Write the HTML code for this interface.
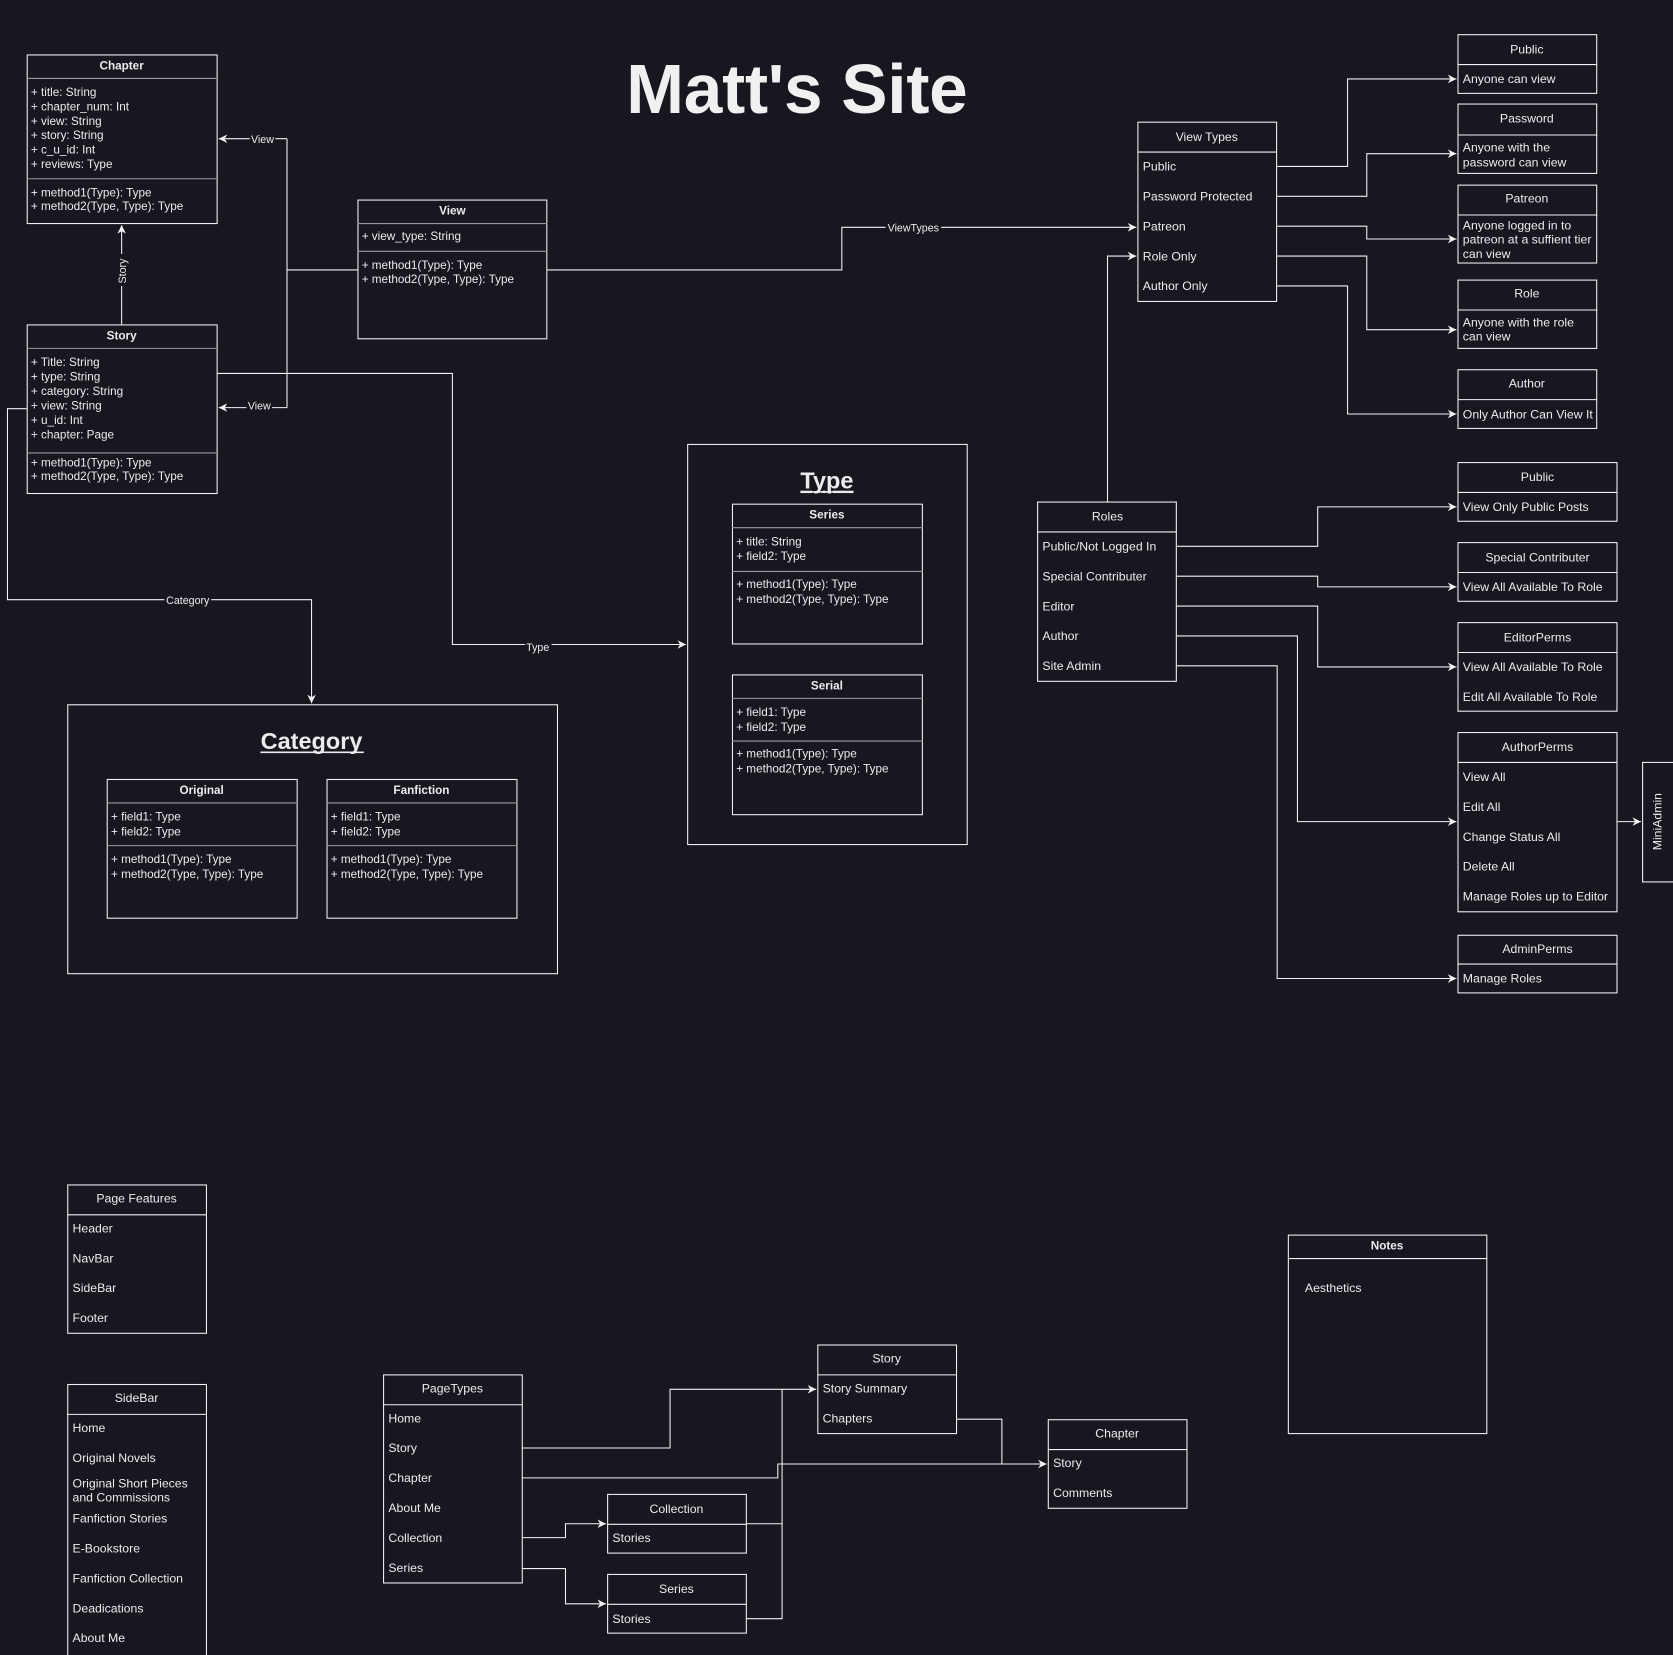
<!DOCTYPE html>
<html><head><meta charset="utf-8"><style>
html,body{margin:0;padding:0;background:#18161f;}
svg{display:block;}
text{font-family:"Liberation Sans",Arial,sans-serif;fill:#ececec;}
.f{font-size:11px;}
.i{font-size:11.5px;}
.b{font-weight:bold;}
.bx{fill:none;stroke:#f2f2f2;stroke-width:1;}
.sp{stroke:#9a9a9a;stroke-width:1;}
.hd{stroke:#f2f2f2;stroke-width:1;}
.ln{fill:none;stroke:#f2f2f2;stroke-width:1;}
.lb{font-size:10px;}
</style></head><body>
<svg width="1673" height="1655" viewBox="0 0 1568 1551" preserveAspectRatio="none" xmlns="http://www.w3.org/2000/svg">
<defs>
<marker id="a" viewBox="0 0 10 10" refX="10" refY="5" markerWidth="8" markerHeight="8" orient="auto" markerUnits="userSpaceOnUse">
<path d="M0,0 L10,5 L0,10 L3,5 Z" fill="#f2f2f2"/></marker>
</defs>
<rect width="1568" height="1551" fill="#18161f"/>

<text x="747" y="106" text-anchor="middle" font-size="65" font-weight="bold" fill="#f0f0f0" style="fill:#f0f0f0" textLength="320">Matt's Site</text>

<!-- connectors -->
<path class="ln" d="M114,304 L114,211" marker-end="url(#a)"/>
<rect x="108" y="238" width="12" height="30" fill="#18161f"/>
<text class="lb" transform="translate(118,254) rotate(-90)" text-anchor="middle">Story</text>

<path class="ln" d="M335,253 L269,253"/>
<path class="ln" d="M269,130 L269,382"/>
<path class="ln" d="M269,130 L205,130" marker-end="url(#a)"/>
<path class="ln" d="M269,382 L205,382" marker-end="url(#a)"/>
<rect x="234" y="124" width="24" height="12" fill="#18161f"/><text class="lb" x="246" y="134" text-anchor="middle">View</text>
<rect x="231" y="374" width="24" height="12" fill="#18161f"/><text class="lb" x="243" y="384" text-anchor="middle">View</text>

<path class="ln" d="M513,253 L789,253 L789,213 L1065,213" marker-end="url(#a)"/>
<rect x="830" y="207" width="52" height="12" fill="#18161f"/><text class="lb" x="856" y="217" text-anchor="middle">ViewTypes</text>

<path class="ln" d="M204,350 L424,350 L424,604 L643,604" marker-end="url(#a)"/>
<rect x="492" y="599" width="25" height="12" fill="#18161f"/><text class="lb" x="504" y="610" text-anchor="middle">Type</text>

<path class="ln" d="M25,383 L7,383 L7,562 L292,562 L292,659" marker-end="url(#a)"/>
<rect x="154" y="556" width="44" height="12" fill="#18161f"/><text class="lb" x="176" y="566" text-anchor="middle">Category</text>

<!-- view types connectors -->
<path class="ln" d="M1197,156 L1263,156 L1263,74 L1365,74" marker-end="url(#a)"/>
<path class="ln" d="M1197,184 L1281,184 L1281,144 L1365,144" marker-end="url(#a)"/>
<path class="ln" d="M1197,212 L1281,212 L1281,224 L1365,224" marker-end="url(#a)"/>
<path class="ln" d="M1197,240 L1281,240 L1281,309 L1365,309" marker-end="url(#a)"/>
<path class="ln" d="M1197,268 L1263,268 L1263,388 L1365,388" marker-end="url(#a)"/>
<path class="ln" d="M1038,470 L1038,240 L1065,240" marker-end="url(#a)"/>

<!-- roles connectors -->
<path class="ln" d="M1103,512 L1235,512 L1235,475 L1365,475" marker-end="url(#a)"/>
<path class="ln" d="M1103,540 L1235,540 L1235,550 L1365,550" marker-end="url(#a)"/>
<path class="ln" d="M1103,568 L1235,568 L1235,625 L1365,625" marker-end="url(#a)"/>
<path class="ln" d="M1103,596 L1216,596 L1216,770 L1365,770" marker-end="url(#a)"/>
<path class="ln" d="M1103,624 L1197,624 L1197,917 L1365,917" marker-end="url(#a)"/>
<path class="ln" d="M1516,770 L1538,770" marker-end="url(#a)"/>

<!-- page types connectors -->
<path class="ln" d="M489,1357 L628,1357 L628,1302 L765,1302" marker-end="url(#a)"/>
<path class="ln" d="M489,1385 L729,1385 L729,1372 L981,1372" marker-end="url(#a)"/>
<path class="ln" d="M489,1441 L530,1441 L530,1428 L568,1428" marker-end="url(#a)"/>
<path class="ln" d="M489,1470 L530,1470 L530,1503 L568,1503" marker-end="url(#a)"/>
<path class="ln" d="M897,1330 L939,1330 L939,1372"/>
<path class="ln" d="M700,1428 L733,1428"/>
<path class="ln" d="M700,1517 L733,1517 L733,1302"/>

<!-- Chapter UML -->
<rect class="bx" x="25.5" y="51.5" width="178" height="158"/>
<line class="sp" x1="25" y1="73.5" x2="204" y2="73.5"/>
<line class="sp" x1="25" y1="167.5" x2="204" y2="167.5"/>
<text class="f b" x="114" y="65" text-anchor="middle">Chapter</text>
<text class="f" x="29" y="90">+ title: String</text>
<text class="f" x="29" y="103.5">+ chapter_num: Int</text>
<text class="f" x="29" y="117">+ view: String</text>
<text class="f" x="29" y="130.5">+ story: String</text>
<text class="f" x="29" y="144">+ c_u_id: Int</text>
<text class="f" x="29" y="157.5">+ reviews: Type</text>
<text class="f" x="29" y="184">+ method1(Type): Type</text>
<text class="f" x="29" y="197">+ method2(Type, Type): Type</text>

<!-- View UML -->
<rect class="bx" x="335.5" y="187.5" width="177" height="130"/>
<line class="sp" x1="335" y1="209.5" x2="513" y2="209.5"/>
<line class="sp" x1="335" y1="235.5" x2="513" y2="235.5"/>
<text class="f b" x="424" y="201" text-anchor="middle">View</text>
<text class="f" x="339" y="225">+ view_type: String</text>
<text class="f" x="339" y="252">+ method1(Type): Type</text>
<text class="f" x="339" y="265">+ method2(Type, Type): Type</text>

<!-- Story UML -->
<rect class="bx" x="25.5" y="304.5" width="178" height="158"/>
<line class="sp" x1="25" y1="326.5" x2="204" y2="326.5"/>
<line class="sp" x1="25" y1="424.5" x2="204" y2="424.5"/>
<text class="f b" x="114" y="318" text-anchor="middle">Story</text>
<text class="f" x="29" y="343">+ Title: String</text>
<text class="f" x="29" y="356.5">+ type: String</text>
<text class="f" x="29" y="370">+ category: String</text>
<text class="f" x="29" y="384">+ view: String</text>
<text class="f" x="29" y="397.5">+ u_id: Int</text>
<text class="f" x="29" y="411">+ chapter: Page</text>
<text class="f" x="29" y="437">+ method1(Type): Type</text>
<text class="f" x="29" y="450">+ method2(Type, Type): Type</text>

<!-- Type container -->
<rect class="bx" x="644.5" y="416.5" width="262" height="375"/>
<text x="775" y="458" text-anchor="middle" font-size="22" font-weight="bold" text-decoration="underline">Type</text>
<line x1="751" y1="461" x2="800" y2="461" stroke="#ececec" stroke-width="1.5"/>
<rect class="bx" x="686.5" y="472.5" width="178" height="131"/>
<line class="sp" x1="686" y1="494.5" x2="865" y2="494.5"/>
<line class="sp" x1="686" y1="535.5" x2="865" y2="535.5"/>
<text class="f b" x="775" y="486" text-anchor="middle">Series</text>
<text class="f" x="690" y="511">+ title: String</text>
<text class="f" x="690" y="525">+ field2: Type</text>
<text class="f" x="690" y="551">+ method1(Type): Type</text>
<text class="f" x="690" y="565">+ method2(Type, Type): Type</text>
<rect class="bx" x="686.5" y="632.5" width="178" height="131"/>
<line class="sp" x1="686" y1="654.5" x2="865" y2="654.5"/>
<line class="sp" x1="686" y1="694.5" x2="865" y2="694.5"/>
<text class="f b" x="775" y="646" text-anchor="middle">Serial</text>
<text class="f" x="690" y="671">+ field1: Type</text>
<text class="f" x="690" y="685">+ field2: Type</text>
<text class="f" x="690" y="710">+ method1(Type): Type</text>
<text class="f" x="690" y="724">+ method2(Type, Type): Type</text>

<!-- Category container -->
<rect class="bx" x="63.5" y="660.5" width="459" height="252"/>
<text x="292" y="702" text-anchor="middle" font-size="22" font-weight="bold">Category</text>
<line x1="244" y1="705" x2="341" y2="705" stroke="#ececec" stroke-width="1.5"/>
<rect class="bx" x="100.5" y="730.5" width="178" height="130"/>
<line class="sp" x1="100" y1="752.5" x2="279" y2="752.5"/>
<line class="sp" x1="100" y1="792.5" x2="279" y2="792.5"/>
<text class="f b" x="189" y="744" text-anchor="middle">Original</text>
<text class="f" x="104" y="769">+ field1: Type</text>
<text class="f" x="104" y="783">+ field2: Type</text>
<text class="f" x="104" y="809">+ method1(Type): Type</text>
<text class="f" x="104" y="823">+ method2(Type, Type): Type</text>
<rect class="bx" x="306.5" y="730.5" width="178" height="130"/>
<line class="sp" x1="306" y1="752.5" x2="485" y2="752.5"/>
<line class="sp" x1="306" y1="792.5" x2="485" y2="792.5"/>
<text class="f b" x="395" y="744" text-anchor="middle">Fanfiction</text>
<text class="f" x="310" y="769">+ field1: Type</text>
<text class="f" x="310" y="783">+ field2: Type</text>
<text class="f" x="310" y="809">+ method1(Type): Type</text>
<text class="f" x="310" y="823">+ method2(Type, Type): Type</text>

<!-- View Types list -->
<rect class="bx" x="1066.5" y="114.5" width="130" height="168"/>
<line class="hd" x1="1066" y1="142.5" x2="1197" y2="142.5"/>
<text class="i" x="1131" y="132" text-anchor="middle">View Types</text>
<text class="i" x="1071" y="160">Public</text>
<text class="i" x="1071" y="188">Password Protected</text>
<text class="i" x="1071" y="216">Patreon</text>
<text class="i" x="1071" y="244">Role Only</text>
<text class="i" x="1071" y="272">Author Only</text>

<!-- right view boxes -->
<rect class="bx" x="1366.5" y="32.5" width="130" height="55"/>
<line class="hd" x1="1366" y1="60.5" x2="1497" y2="60.5"/>
<text class="i" x="1431" y="50" text-anchor="middle">Public</text>
<text class="i" x="1371" y="78">Anyone can view</text>

<rect class="bx" x="1366.5" y="97.5" width="130" height="65"/>
<line class="hd" x1="1366" y1="126.5" x2="1497" y2="126.5"/>
<text class="i" x="1431" y="115" text-anchor="middle">Password</text>
<text class="i" x="1371" y="142">Anyone with the</text>
<text class="i" x="1371" y="156">password can view</text>

<rect class="bx" x="1366.5" y="173.5" width="130" height="73"/>
<line class="hd" x1="1366" y1="201.5" x2="1497" y2="201.5"/>
<text class="i" x="1431" y="190" text-anchor="middle">Patreon</text>
<text class="i" x="1371" y="215">Anyone logged in to</text>
<text class="i" x="1371" y="228">patreon at a suffient tier</text>
<text class="i" x="1371" y="242">can view</text>

<rect class="bx" x="1366.5" y="262.5" width="130" height="64"/>
<line class="hd" x1="1366" y1="290.5" x2="1497" y2="290.5"/>
<text class="i" x="1431" y="279" text-anchor="middle">Role</text>
<text class="i" x="1371" y="306">Anyone with the role</text>
<text class="i" x="1371" y="319">can view</text>

<rect class="bx" x="1366.5" y="346.5" width="130" height="55"/>
<line class="hd" x1="1366" y1="374.5" x2="1497" y2="374.5"/>
<text class="i" x="1431" y="363" text-anchor="middle">Author</text>
<text class="i" x="1371" y="392">Only Author Can View It</text>

<!-- Roles -->
<rect class="bx" x="972.5" y="470.5" width="130" height="168"/>
<line class="hd" x1="972" y1="498.5" x2="1103" y2="498.5"/>
<text class="i" x="1038" y="488" text-anchor="middle">Roles</text>
<text class="i" x="977" y="516">Public/Not Logged In</text>
<text class="i" x="977" y="544">Special Contributer</text>
<text class="i" x="977" y="572">Editor</text>
<text class="i" x="977" y="600">Author</text>
<text class="i" x="977" y="628">Site Admin</text>

<!-- perms boxes -->
<rect class="bx" x="1366.5" y="433.5" width="149" height="55"/>
<line class="hd" x1="1366" y1="461.5" x2="1516" y2="461.5"/>
<text class="i" x="1441" y="451" text-anchor="middle">Public</text>
<text class="i" x="1371" y="479">View Only Public Posts</text>

<rect class="bx" x="1366.5" y="508.5" width="149" height="55"/>
<line class="hd" x1="1366" y1="536.5" x2="1516" y2="536.5"/>
<text class="i" x="1441" y="526" text-anchor="middle">Special Contributer</text>
<text class="i" x="1371" y="554">View All Available To Role</text>

<rect class="bx" x="1366.5" y="583.5" width="149" height="83"/>
<line class="hd" x1="1366" y1="611.5" x2="1516" y2="611.5"/>
<text class="i" x="1441" y="601" text-anchor="middle">EditorPerms</text>
<text class="i" x="1371" y="629">View All Available To Role</text>
<text class="i" x="1371" y="657">Edit All Available To Role</text>

<rect class="bx" x="1366.5" y="686.5" width="149" height="168"/>
<line class="hd" x1="1366" y1="714.5" x2="1516" y2="714.5"/>
<text class="i" x="1441" y="704" text-anchor="middle">AuthorPerms</text>
<text class="i" x="1371" y="732">View All</text>
<text class="i" x="1371" y="760">Edit All</text>
<text class="i" x="1371" y="788">Change Status All</text>
<text class="i" x="1371" y="816">Delete All</text>
<text class="i" x="1371" y="844">Manage Roles up to Editor</text>

<rect class="bx" x="1366.5" y="876.5" width="149" height="54"/>
<line class="hd" x1="1366" y1="903.5" x2="1516" y2="903.5"/>
<text class="i" x="1441" y="893" text-anchor="middle">AdminPerms</text>
<text class="i" x="1371" y="921">Manage Roles</text>

<rect class="bx" x="1539.5" y="714.5" width="40" height="112"/>
<text class="i" transform="translate(1557,770) rotate(-90)" text-anchor="middle">MiniAdmin</text>

<!-- Page Features -->
<rect class="bx" x="63.5" y="1110.5" width="130" height="139"/>
<line class="hd" x1="63" y1="1138.5" x2="194" y2="1138.5"/>
<text class="i" x="128" y="1127" text-anchor="middle">Page Features</text>
<text class="i" x="68" y="1155">Header</text>
<text class="i" x="68" y="1183">NavBar</text>
<text class="i" x="68" y="1211">SideBar</text>
<text class="i" x="68" y="1239">Footer</text>

<!-- SideBar -->
<rect class="bx" x="63.5" y="1297.5" width="130" height="260"/>
<line class="hd" x1="63" y1="1325.5" x2="194" y2="1325.5"/>
<text class="i" x="128" y="1314" text-anchor="middle">SideBar</text>
<text class="i" x="68" y="1342">Home</text>
<text class="i" x="68" y="1370">Original Novels</text>
<text class="i" x="68" y="1394">Original Short Pieces</text>
<text class="i" x="68" y="1407">and Commissions</text>
<text class="i" x="68" y="1427">Fanfiction Stories</text>
<text class="i" x="68" y="1455">E-Bookstore</text>
<text class="i" x="68" y="1483">Fanfiction Collection</text>
<text class="i" x="68" y="1511">Deadications</text>
<text class="i" x="68" y="1539">About Me</text>

<!-- Notes -->
<rect class="bx" x="1207.5" y="1157.5" width="186" height="186"/>
<line class="hd" x1="1207" y1="1179.5" x2="1394" y2="1179.5"/>
<text class="f b" x="1300" y="1171" text-anchor="middle">Notes</text>
<text class="i" x="1223" y="1211">Aesthetics</text>

<!-- PageTypes -->
<rect class="bx" x="359.5" y="1288.5" width="130" height="195"/>
<line class="hd" x1="359" y1="1316.5" x2="490" y2="1316.5"/>
<text class="i" x="424" y="1305" text-anchor="middle">PageTypes</text>
<text class="i" x="364" y="1333">Home</text>
<text class="i" x="364" y="1361">Story</text>
<text class="i" x="364" y="1389">Chapter</text>
<text class="i" x="364" y="1417">About Me</text>
<text class="i" x="364" y="1445">Collection</text>
<text class="i" x="364" y="1473">Series</text>

<rect class="bx" x="766.5" y="1260.5" width="130" height="83"/>
<line class="hd" x1="766" y1="1288.5" x2="897" y2="1288.5"/>
<text class="i" x="831" y="1277" text-anchor="middle">Story</text>
<text class="i" x="771" y="1305">Story Summary</text>
<text class="i" x="771" y="1333">Chapters</text>

<rect class="bx" x="982.5" y="1330.5" width="130" height="83"/>
<line class="hd" x1="982" y1="1358.5" x2="1113" y2="1358.5"/>
<text class="i" x="1047" y="1347" text-anchor="middle">Chapter</text>
<text class="i" x="987" y="1375">Story</text>
<text class="i" x="987" y="1403">Comments</text>

<rect class="bx" x="569.5" y="1400.5" width="130" height="55"/>
<line class="hd" x1="569" y1="1428.5" x2="700" y2="1428.5"/>
<text class="i" x="634" y="1418" text-anchor="middle">Collection</text>
<text class="i" x="574" y="1445">Stories</text>

<rect class="bx" x="569.5" y="1475.5" width="130" height="55"/>
<line class="hd" x1="569" y1="1503.5" x2="700" y2="1503.5"/>
<text class="i" x="634" y="1493" text-anchor="middle">Series</text>
<text class="i" x="574" y="1521">Stories</text>
</svg>
</body></html>
